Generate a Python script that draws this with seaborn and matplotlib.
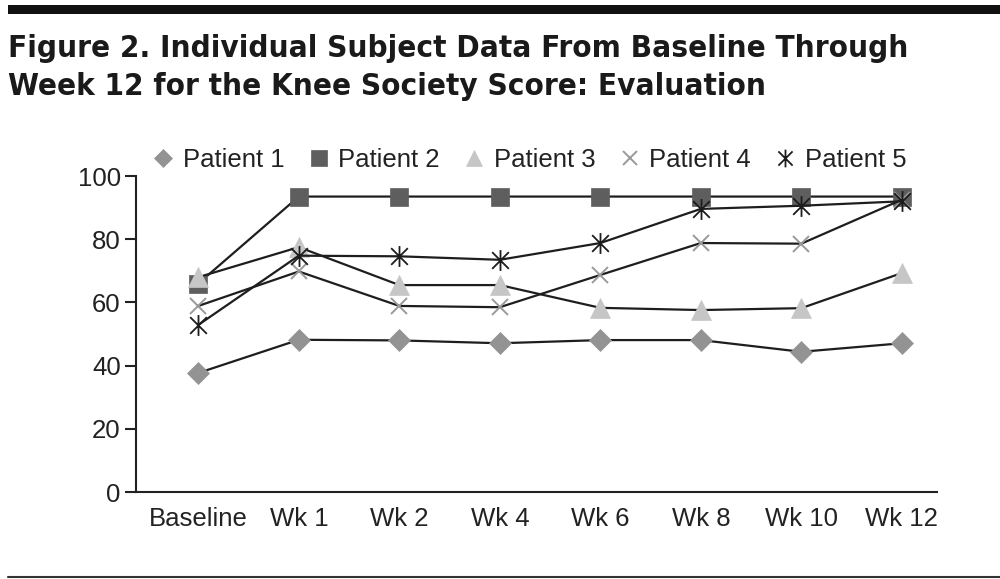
import numpy as np
import pandas as pd
import matplotlib
matplotlib.use("Agg")
import matplotlib.pyplot as plt
from matplotlib.path import Path
from matplotlib.lines import Line2D
from matplotlib.patches import Rectangle
import seaborn as sns

weeks = ["Baseline", "Wk 1", "Wk 2", "Wk 4", "Wk 6", "Wk 8", "Wk 10", "Wk 12"]
patients = ["Patient 1", "Patient 2", "Patient 3", "Patient 4", "Patient 5"]
patient_1 = [37.7, 48.2, 48.0, 47.1, 48.1, 48.1, 44.4, 47.1]
patient_2 = [66.0, 93.5, 93.5, 93.5, 93.5, 93.5, 93.5, 93.5]
patient_3 = [68.0, 77.5, 65.5, 65.5, 58.3, 57.6, 58.2, 69.3]
patient_4 = [58.9, 69.8, 58.9, 58.5, 68.7, 78.8, 78.6, 92.5]
patient_5 = [52.9, 74.8, 74.6, 73.5, 78.8, 89.6, 90.6, 92.0]
yticks = [0, 20, 40, 60, 80, 100]

title_1 = "Figure 2. Individual Subject Data From Baseline Through"
title_2 = "Week 12 for the Knee Society Score: Evaluation"

# asterisk marker like the excel one: vertical bar plus an X
asterisk = Path([(0, -1), (0, 1), (-0.8, -0.8), (0.8, 0.8), (-0.8, 0.8), (0.8, -0.8)],
                [Path.MOVETO, Path.LINETO, Path.MOVETO, Path.LINETO, Path.MOVETO, Path.LINETO])

markers = {"Patient 1": "D", "Patient 2": "s", "Patient 3": "^", "Patient 4": "x", "Patient 5": asterisk}
face = {"Patient 1": "#939393", "Patient 2": "#5e5e5e", "Patient 3": "#c6c6c6",
        "Patient 4": "none", "Patient 5": "none"}
edge = {"Patient 1": "#939393", "Patient 2": "#5e5e5e", "Patient 3": "#c6c6c6",
        "Patient 4": "#9a9a9a", "Patient 5": "#1c1c1c"}
msize = {"Patient 1": 11, "Patient 2": 13.5, "Patient 3": 14, "Patient 4": 12, "Patient 5": 15}
mew = {"Patient 1": 0.5, "Patient 2": 0.5, "Patient 3": 0.5, "Patient 4": 1.4, "Patient 5": 1.3}

df = pd.DataFrame({
    "week": weeks * 5,
    "score": patient_1 + patient_2 + patient_3 + patient_4 + patient_5,
    "patient": np.repeat(patients, len(weeks)),
})

sns.set_style("ticks")
plt.rcParams["font.family"] = ["Liberation Sans", "DejaVu Sans"]

fig = plt.figure(figsize=(10, 5.79), dpi=100)
ax = fig.add_axes([0.136, 0.150, 0.801, 0.546])

sns.lineplot(data=df, x="week", y="score", hue="patient",
             palette=["#1e1e1e"] * 5, sort=False,
             linewidth=1.6, legend=False, ax=ax)

# seaborn won't mix filled and line-art markers, so set them per line afterwards
for line, p in zip(ax.lines, patients):
    line.set_marker(markers[p])
    line.set_markerfacecolor(face[p])
    line.set_markeredgecolor(edge[p])
    line.set_markersize(msize[p])
    line.set_markeredgewidth(mew[p])

ax.set_xlim(-0.62, 7.35)
ax.set_ylim(0, 100)
ax.set_yticks(yticks)
ax.set_xlabel("")
ax.set_ylabel("")
sns.despine(ax=ax)
for s in ["left", "bottom"]:
    ax.spines[s].set_linewidth(1.5)
    ax.spines[s].set_color("#222222")
ax.tick_params(axis="y", length=8, width=1.5, color="#222222", labelsize=18.5, pad=3,
               labelcolor="#222222")
ax.tick_params(axis="x", length=0, labelsize=18.5, pad=11, labelcolor="#222222")

handles = [Line2D([], [], ls="none", marker=markers[p], markersize=msize[p] * 0.85,
                  markerfacecolor=face[p], markeredgecolor=edge[p], markeredgewidth=mew[p])
           for p in patients]
fig.legend(handles, patients, loc="center", bbox_to_anchor=(0.529, 0.724), ncol=5,
           frameon=False, fontsize=18.5, handlelength=0.9, handletextpad=0.3,
           columnspacing=0.9, labelcolor="#222222")

for txt, y in [(title_1, 0.9016), (title_2, 0.836)]:
    fig.text(0.008, y, txt, fontsize=22.5, fontweight="bold", va="baseline", ha="left",
             family="DejaVu Sans", fontstretch="condensed", color="#1a1a1a")

fig.add_artist(Rectangle((0.008, 0.975), 0.992, 0.017, transform=fig.transFigure,
                         color="#111111", lw=0))
fig.add_artist(Line2D([0.008, 1.0], [0.004, 0.004], transform=fig.transFigure,
                      color="#333333", lw=1.5))

fig.savefig("out.png", dpi=100)
